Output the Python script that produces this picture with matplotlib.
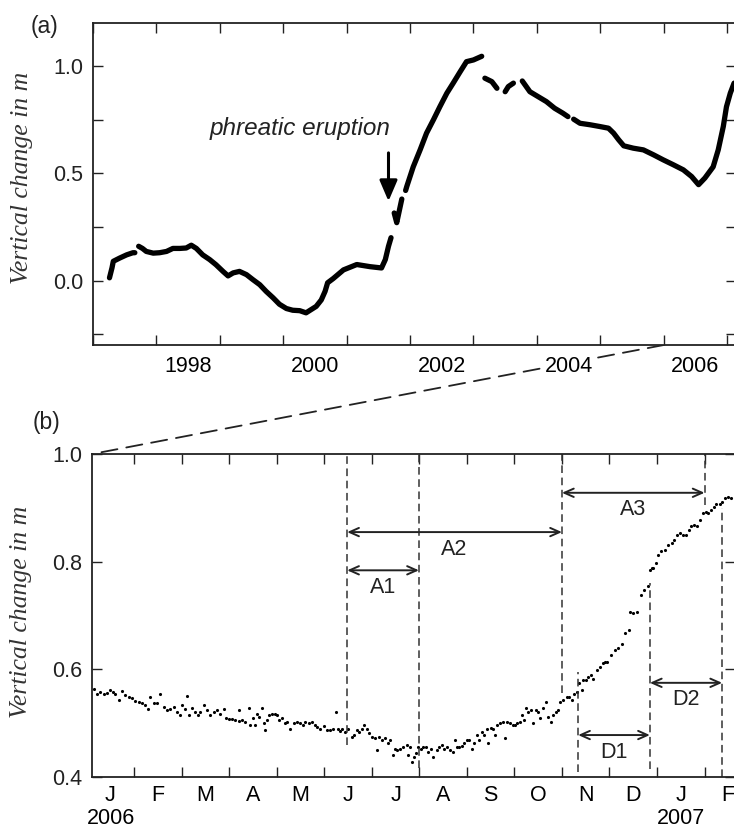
import numpy as np
import matplotlib
matplotlib.use('Agg')
import matplotlib.pyplot as plt
from matplotlib.patches import ConnectionPatch

nan = np.nan

# (a) levelling record, decimal years; nan = data gap
yr_a = [1997.26, 1997.30, 1997.32, 1997.42, 1997.53, 1997.63, 1997.66, nan,
        1997.72, 1997.78, 1997.84, 1997.95, 1998.05, 1998.16, 1998.26, 1998.37,
        1998.47, 1998.55, 1998.63, 1998.73, 1998.84, 1998.94, 1999.05, 1999.13,
        1999.21, 1999.31, 1999.42, 1999.52, 1999.63, 1999.73, 1999.84, 1999.94,
        2000.05, 2000.15, 2000.26, 2000.36, 2000.44, 2000.52, 2000.60, 2000.66,
        2000.70, 2000.79, 2000.95, 2001.16, 2001.37, 2001.55, 2001.61, 2001.66,
        2001.70, nan, 2001.75, 2001.79, 2001.87, nan, 2001.93, 2001.95, 2002.05,
        2002.16, 2002.26, 2002.37, 2002.47, 2002.58, 2002.68, 2002.79, 2002.89,
        2003.00, 2003.13, nan, 2003.18, 2003.29, 2003.37, nan, 2003.50, 2003.55,
        2003.63, nan, 2003.77, 2003.89, 2004.02, 2004.15, 2004.28, 2004.41,
        2004.49, nan, 2004.58, 2004.68, 2004.84, 2004.99, 2005.13, 2005.21,
        2005.29, 2005.37, 2005.52, 2005.68, 2005.84, 2005.99, 2006.15, 2006.31,
        2006.44, 2006.55, 2006.65, 2006.78, 2006.86, 2006.94, 2006.99, 2007.05,
        2007.11]
dz_a = [0.013, 0.060, 0.090, 0.105, 0.120, 0.130, 0.130, nan,
        0.160, 0.150, 0.136, 0.128, 0.130, 0.136, 0.150, 0.150,
        0.152, 0.165, 0.150, 0.120, 0.098, 0.074, 0.043, 0.022,
        0.036, 0.043, 0.028, 0.005, -0.019, -0.050, -0.080, -0.110,
        -0.130, -0.138, -0.140, -0.150, -0.135, -0.120, -0.090, -0.050,
        -0.010, 0.010, 0.050, 0.075, 0.065, 0.059, 0.098, 0.160,
        0.200, nan, 0.315, 0.270, 0.380, nan, 0.420, 0.440, 0.530,
        0.610, 0.687, 0.750, 0.810, 0.873, 0.920, 0.973, 1.020,
        1.028, 1.045, nan, 0.943, 0.927, 0.896, nan, 0.880, 0.904,
        0.920, nan, 0.930, 0.880, 0.857, 0.834, 0.803, 0.780,
        0.764, nan, 0.752, 0.733, 0.726, 0.718, 0.710, 0.687,
        0.656, 0.628, 0.617, 0.609, 0.586, 0.563, 0.540, 0.516,
        0.485, 0.447, 0.478, 0.530, 0.609, 0.718, 0.810, 0.873,
        0.920]

# (b) 2006-07 detail, time in months since 1 Jan 2006
mon_b = [0.144, 0.215, 0.285, 0.355, 0.425, 0.495, 0.544, 0.600, 0.670, 0.741,
         0.811, 0.881, 0.951, 1.021, 1.091, 1.161, 1.231, 1.288, 1.337, 1.407,
         1.477, 1.547, 1.617, 1.687, 1.757, 1.828, 1.898, 1.968, 2.003, 2.059,
         2.108, 2.157, 2.213, 2.283, 2.339, 2.389, 2.459, 2.529, 2.599, 2.669,
         2.739, 2.809, 2.879, 2.936, 2.999, 3.055, 3.125, 3.195, 3.209, 3.265,
         3.335, 3.405, 3.440, 3.489, 3.546, 3.581, 3.630, 3.686, 3.721, 3.756,
         3.791, 3.840, 3.896, 3.952, 4.002, 4.051, 4.107, 4.163, 4.212, 4.282,
         4.352, 4.422, 4.492, 4.542, 4.597, 4.668, 4.738, 4.794, 4.850, 4.913,
         4.983, 5.053, 5.123, 5.173, 5.243, 5.285, 5.334,
         5.362, 5.432, 5.502, 5.572, 5.622, 5.678, 5.734, 5.783, 5.832, 5.888,
         5.944, 5.993, 6.063, 6.098, 6.154, 6.204, 6.274, 6.344, 6.379, 6.449,
         6.484, 6.533, 6.589, 6.659, 6.730, 6.765, 6.800, 6.835, 6.884, 6.926,
         6.975, 7.024, 7.080, 7.136, 7.185, 7.234, 7.291, 7.361, 7.417, 7.466,
         7.515, 7.571, 7.641, 7.697, 7.746, 7.781, 7.838, 7.887, 7.936, 7.992,
         8.048, 8.097, 8.146, 8.202, 8.258, 8.307, 8.356, 8.413, 8.448, 8.497,
         8.553, 8.595, 8.637, 8.693, 8.749, 8.798, 8.847, 8.903, 8.960, 9.009,
         9.058, 9.114, 9.149, 9.198, 9.240, 9.289, 9.338, 9.394, 9.450, 9.500,
         9.535, 9.605, 9.661, 9.710, 9.759, 9.815, 9.871, 9.920, 9.969, 10.025,
         10.096,
         10.152, 10.201, 10.250, 10.306, 10.362, 10.411, 10.446, 10.502, 10.551,
         10.601, 10.657, 10.727, 10.797, 10.853, 10.902, 10.951, 11.042, 11.113,
         11.183, 11.253, 11.323, 11.414, 11.428, 11.498, 11.582, 11.673, 11.723,
         11.814, 11.849, 11.884, 11.919, 11.975, 12.024, 12.094, 12.164, 12.234,
         12.305, 12.354, 12.410, 12.480, 12.550, 12.620, 12.676, 12.725, 12.775,
         12.831, 12.901, 12.971, 13.027, 13.076, 13.146, 13.195, 13.251, 13.321,
         13.377, 13.426, 13.497, 13.567]
dz_b = [0.563, 0.555, 0.558, 0.555, 0.557, 0.562, 0.558, 0.555, 0.544, 0.560,
        0.552, 0.549, 0.546, 0.542, 0.540, 0.538, 0.534, 0.527, 0.549, 0.537,
        0.538, 0.554, 0.531, 0.524, 0.527, 0.531, 0.521, 0.515, 0.534, 0.526,
        0.550, 0.515, 0.528, 0.521, 0.515, 0.521, 0.534, 0.524, 0.515, 0.521,
        0.524, 0.518, 0.526, 0.509, 0.507, 0.507, 0.506, 0.505, 0.524, 0.506,
        0.503, 0.528, 0.497, 0.509, 0.497, 0.518, 0.512, 0.528, 0.500, 0.487,
        0.506, 0.515, 0.518, 0.518, 0.515, 0.506, 0.509, 0.500, 0.503, 0.490,
        0.500, 0.503, 0.501, 0.497, 0.503, 0.501, 0.503, 0.497, 0.493, 0.490,
        0.495, 0.488, 0.487, 0.490, 0.521, 0.490, 0.486,
        0.489, 0.484, 0.490, 0.475, 0.478, 0.487, 0.484, 0.490, 0.497, 0.489,
        0.481, 0.475, 0.472, 0.450, 0.475, 0.469, 0.472, 0.463, 0.469, 0.441,
        0.453, 0.450, 0.453, 0.456, 0.459, 0.441, 0.456, 0.428, 0.438, 0.444,
        0.456, 0.453, 0.455, 0.456, 0.447, 0.453, 0.438, 0.450, 0.456, 0.459,
        0.453, 0.456, 0.450, 0.447, 0.469, 0.456, 0.455, 0.458, 0.463, 0.469,
        0.469, 0.453, 0.463, 0.478, 0.469, 0.484, 0.478, 0.490, 0.464, 0.492,
        0.490, 0.478, 0.497, 0.500, 0.503, 0.472, 0.503, 0.500, 0.497, 0.497,
        0.500, 0.503, 0.515, 0.506, 0.528, 0.521, 0.524, 0.500, 0.524, 0.521,
        0.509, 0.528, 0.540, 0.512, 0.503, 0.515, 0.521, 0.524, 0.540, 0.543,
        0.549,
        0.549, 0.543, 0.555, 0.558, 0.574, 0.562, 0.580, 0.580, 0.586,
        0.589, 0.583, 0.599, 0.605, 0.611, 0.614, 0.614, 0.627, 0.636,
        0.639, 0.648, 0.667, 0.673, 0.707, 0.704, 0.707, 0.738, 0.747,
        0.754, 0.785, 0.788, 0.788, 0.797, 0.812, 0.819, 0.822, 0.831,
        0.834, 0.840, 0.850, 0.853, 0.850, 0.850, 0.859, 0.866, 0.868,
        0.866, 0.877, 0.890, 0.893, 0.890, 0.896, 0.902, 0.908, 0.908,
        0.911, 0.918, 0.921, 0.918]

year_edges = list(range(1997, 2008))
year_labels = [1998, 2000, 2002, 2004, 2006]
month_letters = ['J', 'F', 'M', 'A', 'M', 'J', 'J', 'A', 'S', 'O', 'N', 'D', 'J', 'F']

# event markers in (b): x position, lower and upper end of the dashed line
event_x = [5.48, 6.99, 10.0, 10.34, 11.85, 13.0, 13.37]
event_lo = [0.459, 0.417, 0.556, 0.410, 0.415, 0.905, 0.400]
event_hi = [1.000, 1.000, 1.000, 0.595, 0.760, 1.000, 0.900]

# intervals between events: name, start, end, height
span_names = ['A1', 'A2', 'A3', 'D1', 'D2']
span_start = [5.48, 5.48, 10.0, 10.34, 11.85]
span_end = [6.99, 10.0, 13.0, 11.85, 13.37]
span_y = [0.784, 0.855, 0.928, 0.478, 0.575]

plt.rcParams['font.family'] = ['Liberation Sans', 'DejaVu Sans']
plt.rcParams['font.size'] = 15.5

fig = plt.figure(figsize=(7.34, 8.34), dpi=100)
ax1 = fig.add_axes([0.1267, 0.5863, 0.876, 0.3861])
ax2 = fig.add_axes([0.1253, 0.0683, 0.876, 0.3873])

ylab = dict(family='Liberation Serif', style='italic', fontsize=18.5, color='#333333')
ink = '#222222'

# --- (a) full record ---
ax1.plot(yr_a, dz_a, color='k', lw=3.8, solid_capstyle='round', solid_joinstyle='round')
ax1.set_xlim(1997.0, 2007.14)
ax1.set_ylim(-0.3, 1.2)
ax1.set_xticks(year_edges)
ax1.set_xticklabels([])
ax1.set_xticks([y + 0.5 for y in year_labels], minor=True)
ax1.set_xticklabels([str(y) for y in year_labels], minor=True)
ax1.set_yticks([-0.25, 0.0, 0.25, 0.5, 0.75, 1.0])
ax1.set_yticklabels(['', '0.0', '', '0.5', '', '1.0'])
ax1.annotate('', xy=(2001.66, 0.37), xytext=(2001.66, 0.595),
             arrowprops=dict(arrowstyle='-|>,head_length=0.7,head_width=0.3',
                             mutation_scale=18, color='k', lw=2.2,
                             shrinkA=0, shrinkB=0))
ax1.text(2000.26, 0.71, 'phreatic eruption', style='italic', fontsize=17.5,
         ha='center', va='center', color=ink)
ax1.set_ylabel('Vertical change in m', **ylab)
ax1.yaxis.set_label_coords(-0.094, 0.52)

# --- (b) 2006-07 detail ---
ax2.plot(mon_b, dz_b, 'k.', ms=4.5, mew=0)
ax2.set_xlim(0.11, 13.64)
ax2.set_ylim(0.4, 1.0)
ax2.set_xticks(range(1, 14))
ax2.set_xticklabels([])
ax2.set_xticks([i + 0.5 for i in range(len(month_letters))], minor=True)
mlabels = list(month_letters)
mlabels[0] = 'J\n2006'
mlabels[12] = 'J\n2007'
ax2.set_xticklabels(mlabels, minor=True, va='top', linespacing=1.1)
ax2.set_yticks([0.4, 0.6, 0.8, 1.0])
ax2.set_yticklabels(['0.4', '0.6', '0.8', '1.0'])
ax2.set_ylabel('Vertical change in m', **ylab)
ax2.yaxis.set_label_coords(-0.093, 0.51)

for x, lo, hi in zip(event_x, event_lo, event_hi):
    ax2.plot([x, x], [lo, hi], color='#333333', lw=1.1, dashes=(5, 3))

for name, x0, x1, y in zip(span_names, span_start, span_end, span_y):
    ax2.annotate('', xy=(x1, y), xytext=(x0, y),
                 arrowprops=dict(arrowstyle='<->,head_length=0.45,head_width=0.2',
                                 mutation_scale=15, color=ink, lw=1.4,
                                 shrinkA=0, shrinkB=0))
    ax2.text((x0 + x1) / 2, y - 0.012, name, ha='center', va='top',
             fontsize=15.5, color=ink)

for ax in (ax1, ax2):
    for s in ax.spines.values():
        s.set_linewidth(1.3)
        s.set_color(ink)
    ax.tick_params(which='major', direction='in', length=7, width=1.0,
                   top=True, right=True, colors=ink, labelcolor=ink)
    ax.tick_params(which='minor', length=0, top=False, right=False)
    ax.tick_params(axis='y', pad=7)
ax1.tick_params(axis='x', which='minor', pad=8)
ax2.tick_params(axis='x', which='minor', pad=6)

# year labels of (a) sit on a white ground so the guide line breaks behind them
for lbl in ax1.get_xticklabels(minor=True):
    lbl.set_bbox(dict(facecolor='white', edgecolor='none', pad=2))

# dashed guide from 2006 in (a) to the start of (b)
con = ConnectionPatch(xyA=(2006.0, -0.3), coordsA=ax1.transData,
                      xyB=(0.11, 1.0), coordsB=ax2.transData,
                      color=ink, lw=1.3, linestyle=(0, (9, 5)))
con.set_zorder(-1)
fig.add_artist(con)

fig.text(0.061, 0.968, '(a)', fontsize=16.5, ha='center', va='center', color=ink)
fig.text(0.064, 0.494, '(b)', fontsize=16.5, ha='center', va='center', color=ink)

fig.savefig('out.png', dpi=100)
